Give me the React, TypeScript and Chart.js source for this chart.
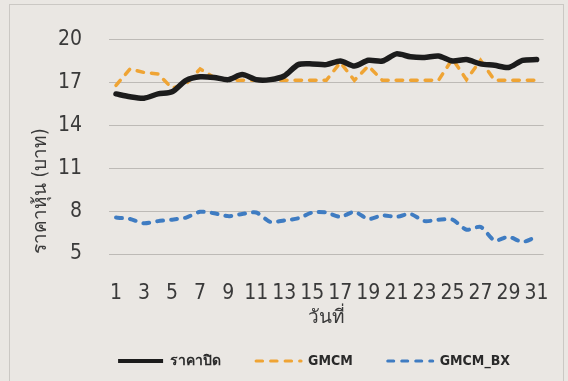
import React, { useEffect, useRef } from "react";
import { Chart, registerables } from "chart.js";

Chart.register(...registerables);

const days: string[] = Array.from({ length: 31 }, (_, i) => String(i + 1));

const closePrice: number[] = [
  16.2, 16.0, 15.9, 16.2, 16.35, 17.15, 17.4, 17.35, 17.2, 17.55,
  17.2, 17.2, 17.45, 18.25, 18.3, 18.25, 18.5, 18.15, 18.55, 18.5,
  19.0, 18.8, 18.75, 18.85, 18.5, 18.6, 18.3, 18.2, 18.05, 18.55, 18.6,
];

const gmcm: number[] = [
  16.8, 17.95, 17.7, 17.6, 16.6, 16.9, 17.95, 17.35, 17.15, 17.15,
  17.15, 17.15, 17.15, 17.15, 17.15, 17.15, 18.4, 17.15, 18.15, 17.15,
  17.15, 17.15, 17.15, 17.15, 18.65, 17.2, 18.55, 17.15, 17.15, 17.15, 17.15,
];

const gmcmBx: number[] = [
  7.55, 7.45, 7.15, 7.3, 7.4, 7.55, 7.95, 7.85, 7.65, 7.8,
  7.9, 7.25, 7.35, 7.5, 7.9, 7.9, 7.6, 7.95, 7.45, 7.7,
  7.6, 7.8, 7.3, 7.4, 7.4, 6.7, 6.9, 5.95, 6.2, 5.85, 6.2,
];

const seriesNames: string[] = ["ราคาปิด", "GMCM", "GMCM_BX"];
const yTitle = "ราคาหุ้น (บาท)";
const xTitle = "วันที่";

const FONT = "'Liberation Sans Narrow', 'DejaVu Sans Condensed', 'Noto Sans', sans-serif";

export default function App() {
  const ref = useRef<HTMLCanvasElement | null>(null);

  useEffect(() => {
    document.body.style.margin = "0";
    const ctx = ref.current!.getContext("2d")!;
    const chart = new Chart(ctx, {
      type: "line",
      data: {
        labels: days,
        datasets: [
          {
            label: seriesNames[0],
            data: closePrice,
            borderColor: "#1c1c1c",
            backgroundColor: "#1c1c1c",
            borderWidth: 5.5,
            pointRadius: 0,
            tension: 0.25,
            borderCapStyle: "round",
            borderJoinStyle: "round",
          },
          {
            label: seriesNames[1],
            data: gmcm,
            borderColor: "#efa434",
            backgroundColor: "#efa434",
            borderWidth: 3.5,
            borderDash: [6.5, 8],
            borderCapStyle: "round",
            pointRadius: 0,
            tension: 0,
          },
          {
            label: seriesNames[2],
            data: gmcmBx,
            borderColor: "#3f7cc2",
            backgroundColor: "#3f7cc2",
            borderWidth: 4,
            borderDash: [6, 8],
            borderCapStyle: "round",
            pointRadius: 0,
            tension: 0.25,
          },
        ],
      },
      options: {
        animation: false,
        responsive: false,
        maintainAspectRatio: false,
        layout: { padding: { left: 0, right: 23, top: 36, bottom: 3 } },
        plugins: {
          legend: {
            position: "bottom",
            fullSize: true,
            align: "end",
            labels: {
              usePointStyle: true,
              pointStyle: "line",
              pointStyleWidth: 45,
              padding: 35,
              color: "#2a2a2a",
              font: { family: FONT, size: 14, weight: "bold" },
              generateLabels: (c: any) => {
                const items = Chart.defaults.plugins.legend.labels.generateLabels(c);
                return items.map((it: any, i: number) => {
                  const ds: any = c.data.datasets[i];
                  return {
                    ...it,
                    pointStyle: "line",
                    lineWidth: i === 0 ? 4 : 3,
                    lineDash: ds.borderDash || [],
                    lineCap: i === 0 ? "butt" : "round",
                    strokeStyle: ds.borderColor,
                  };
                });
              },
            },
          },
          tooltip: { enabled: false },
        },
        scales: {
          x: {
            offset: true,
            grid: { display: false },
            border: { display: false },
            ticks: {
              autoSkip: false,
              maxRotation: 0,
              padding: 19,
              color: "#3a3a3a",
              font: { family: FONT, size: 21 },
              callback: (_v: any, i: number) => (i % 2 === 0 ? days[i] : ""),
            },
            title: {
              display: true,
              text: xTitle,
              color: "#3a3a3a",
              font: { family: FONT, size: 19 },
              padding: { top: 0, bottom: -10 },
            },
            afterFit: (scale: any) => {
              scale.height = 65;
            },
          },
          y: {
            min: 5,
            max: 20,
            grid: { color: "#bdbab6", lineWidth: 1, drawTicks: false },
            border: { display: false },
            ticks: {
              stepSize: 3,
              autoSkip: false,
              padding: 27,
              color: "#3a3a3a",
              font: { family: FONT, size: 21 },
            },
            title: {
              display: true,
              text: yTitle,
              align: "start",
              color: "#3a3a3a",
              font: { family: FONT, size: 19 },
              padding: { top: 30, bottom: 0 },
            },
            afterFit: (scale: any) => {
              scale.width = 109;
            },
          },
        },
      },
    });
    return () => chart.destroy();
  }, []);

  return (
    <div
      style={{
        position: "relative",
        width: 568,
        height: 381,
        background: "#eae7e3",
        overflow: "hidden",
      }}
    >
      <div
        style={{
          position: "absolute",
          left: 9,
          top: 4,
          width: 553,
          height: 390,
          border: "1px solid #cbc8c4",
        }}
      />
      <canvas
        ref={ref}
        width={568}
        height={381}
        style={{ position: "absolute", left: 0, top: 0, width: 568, height: 381 }}
      />
    </div>
  );
}
